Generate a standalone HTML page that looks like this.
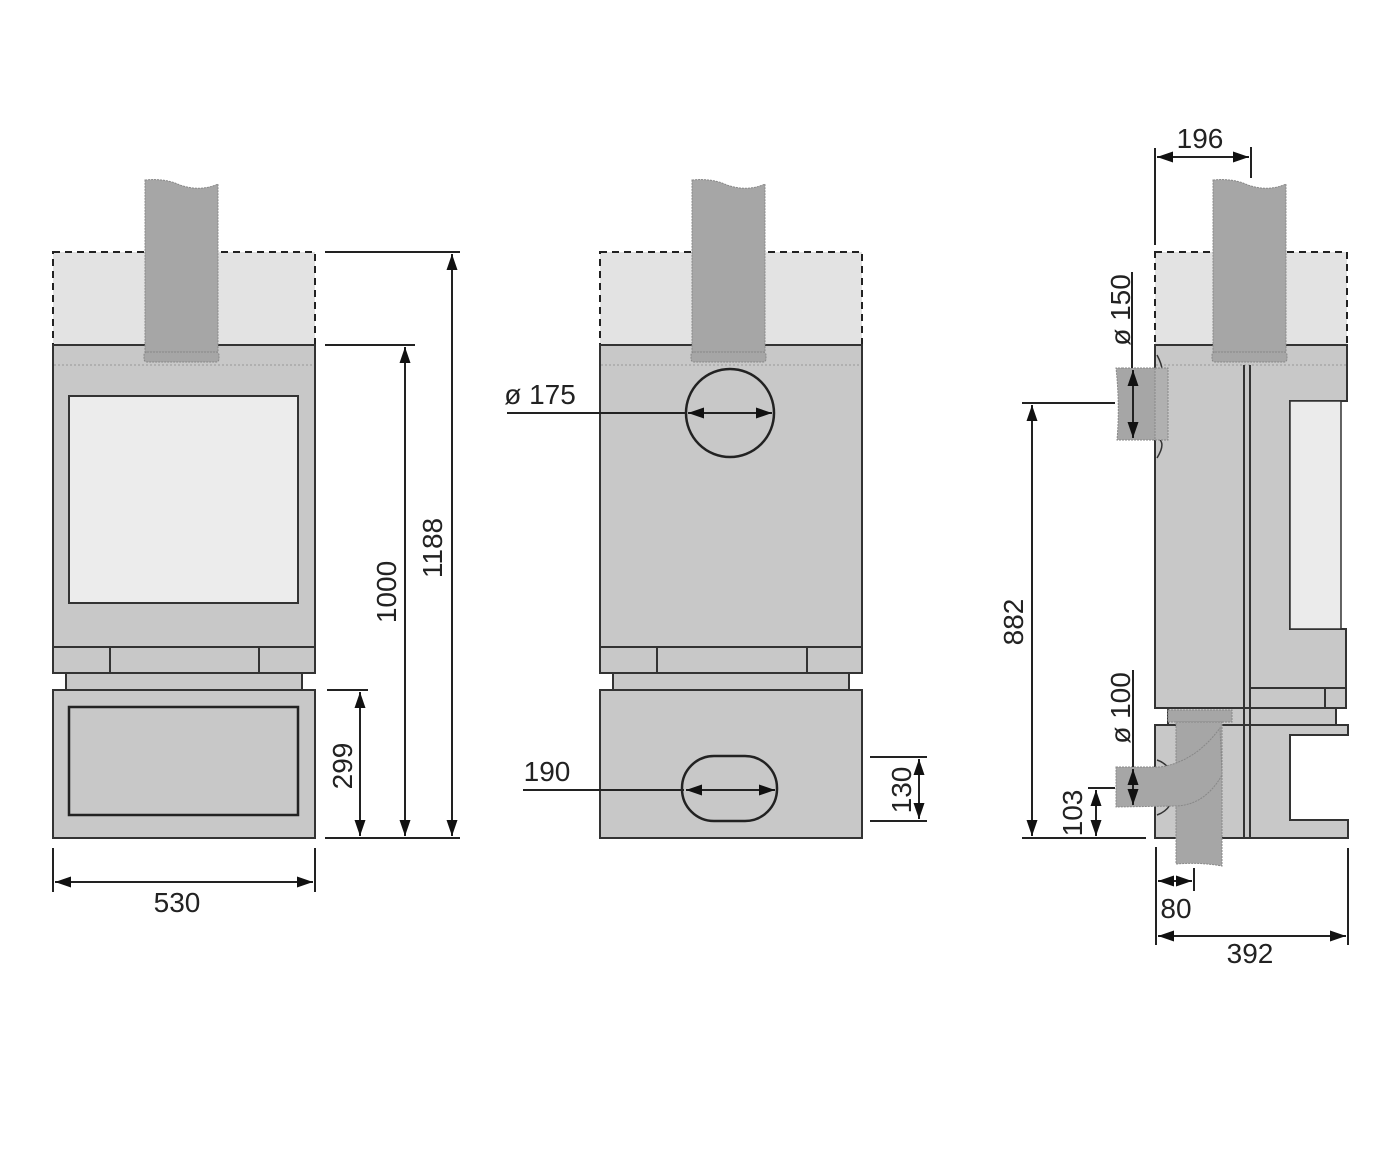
<!DOCTYPE html>
<html><head><meta charset="utf-8"><style>
html,body{margin:0;padding:0;background:#fff;}
svg{display:block;}
text{font-family:"Liberation Sans",sans-serif;font-size:28px;fill:#222;}
</style></head><body>
<svg width="1400" height="1167" viewBox="0 0 1400 1167" xmlns="http://www.w3.org/2000/svg">
<defs>
<marker id="a" viewBox="0 0 16 11" refX="16" refY="5.5" markerWidth="16" markerHeight="11" markerUnits="userSpaceOnUse" orient="auto-start-reverse"><path d="M0,0 L16,5.5 L0,11 Z" fill="#111"/></marker>
</defs>
<g stroke="#333" stroke-width="2">
<!-- ===== LEFT VIEW ===== -->
<rect x="53" y="252" width="262" height="93" fill="#e3e3e3" stroke="#222" stroke-dasharray="7,5"/>
<rect x="53" y="345" width="262" height="328" fill="#c8c8c8"/>
<line x1="54" y1="365" x2="314" y2="365" stroke="#999" stroke-width="1" stroke-dasharray="2,2"/>
<rect x="69" y="396" width="229" height="207" fill="#ececec"/>
<rect x="53" y="647" width="262" height="26" fill="#c8c8c8"/>
<line x1="110" y1="647" x2="110" y2="673"/><line x1="259" y1="647" x2="259" y2="673"/>
<rect x="66" y="673" width="236" height="17" fill="#c8c8c8"/>
<rect x="53" y="690" width="262" height="148" fill="#c8c8c8"/>
<rect x="69" y="707" width="229" height="108" fill="#c8c8c8" stroke="#222" stroke-width="2.5"/>
<path d="M145,180 Q165,178 180,185 Q200,192 218,184 L218,352 L145,352 Z" fill="#a6a6a6" stroke="#888" stroke-width="1" stroke-dasharray="2,1"/>
<rect x="144" y="352" width="75" height="10" rx="3" fill="#a6a6a6" stroke="#888" stroke-width="1" stroke-dasharray="2,1"/>

<!-- ===== MIDDLE VIEW ===== -->
<rect x="600" y="252" width="262" height="93" fill="#e3e3e3" stroke="#222" stroke-dasharray="7,5"/>
<rect x="600" y="345" width="262" height="328" fill="#c8c8c8"/>
<line x1="601" y1="365" x2="861" y2="365" stroke="#999" stroke-width="1" stroke-dasharray="2,2"/>
<rect x="600" y="647" width="262" height="26" fill="#c8c8c8"/>
<line x1="657" y1="647" x2="657" y2="673"/><line x1="807" y1="647" x2="807" y2="673"/>
<rect x="613" y="673" width="236" height="17" fill="#c8c8c8"/>
<rect x="600" y="690" width="262" height="148" fill="#c8c8c8"/>
<path d="M692,180 Q712,178 727,185 Q747,192 765,184 L765,352 L692,352 Z" fill="#a6a6a6" stroke="#888" stroke-width="1" stroke-dasharray="2,1"/>
<rect x="691" y="352" width="75" height="10" rx="3" fill="#a6a6a6" stroke="#888" stroke-width="1" stroke-dasharray="2,1"/>
<ellipse cx="730" cy="413" rx="44" ry="44" fill="none" stroke="#222" stroke-width="2.5"/>
<rect x="682" y="756" width="95" height="65" rx="32" fill="none" stroke="#222" stroke-width="2.5"/>

<!-- ===== RIGHT VIEW ===== -->
<rect x="1155" y="252" width="192" height="93" fill="#e3e3e3" stroke="#222" stroke-dasharray="7,5"/>
<path d="M1155,345 L1347,345 L1347,401 L1290,401 L1290,629 L1346,629 L1346,708 L1155,708 Z" fill="#c8c8c8"/>
<rect x="1290" y="401" width="51" height="228" fill="#ebebeb" stroke-width="1.5"/>
<line x1="1156" y1="365" x2="1346" y2="365" stroke="#999" stroke-width="1" stroke-dasharray="2,2"/>
<line x1="1250" y1="688" x2="1346" y2="688"/><line x1="1325" y1="688" x2="1325" y2="708"/>
<rect x="1168" y="708" width="168" height="17" fill="#c8c8c8"/>
<path d="M1155,725 L1348,725 L1348,735 L1290,735 L1290,820 L1348,820 L1348,838 L1155,838 Z" fill="#c8c8c8"/>
<line x1="1244" y1="365" x2="1244" y2="838"/><line x1="1250" y1="365" x2="1250" y2="838"/>
<path d="M1213,180 Q1233,178 1248,185 Q1268,192 1286,184 L1286,352 L1213,352 Z" fill="#a6a6a6" stroke="#888" stroke-width="1" stroke-dasharray="2,1"/>
<rect x="1212" y="352" width="75" height="10" rx="3" fill="#a6a6a6" stroke="#888" stroke-width="1" stroke-dasharray="2,1"/>
<!-- upper stub ø150 -->
<path d="M1157,355 Q1165,370 1160,375 M1157,458 Q1165,445 1160,440" fill="none" stroke-width="1.5"/>
<path d="M1122,368 L1168,368 L1168,440 L1117,440 Q1120,405 1116,368 Z" fill="#a6a6a6" stroke="#888" stroke-width="1" stroke-dasharray="2,1"/>
<rect x="1155" y="368" width="13" height="72" fill="#b0b0b0" stroke="#888" stroke-width="1" stroke-dasharray="2,1"/>
<!-- lower duct -->
<path d="M1157,760 A25,25 0 0 1 1170,770 M1157,815 A25,25 0 0 0 1170,805" fill="none" stroke-width="1.5"/>
<rect x="1168" y="710" width="64" height="12" fill="#a6a6a6" stroke="#888" stroke-width="1" stroke-dasharray="2,1"/>
<path d="M1176,722 L1222,722 L1222,866 Q1200,862 1176,864 Z" fill="#a6a6a6" stroke="#888" stroke-width="1" stroke-dasharray="2,1"/>
<path d="M1116,767 L1160,767 Q1195,762 1220,728 L1222,775 Q1205,805 1176,806 L1116,807 Z" fill="#a6a6a6" stroke="#888" stroke-width="1" stroke-dasharray="2,1"/>
</g>

<!-- ===== DIMENSIONS ===== -->
<g stroke="#222" stroke-width="2" fill="none">
<line x1="325" y1="252" x2="460" y2="252"/>
<line x1="325" y1="345" x2="415" y2="345"/>
<line x1="327" y1="690" x2="368" y2="690"/>
<line x1="325" y1="838" x2="460" y2="838"/>
<line x1="452" y1="254" x2="452" y2="836" marker-start="url(#a)" marker-end="url(#a)"/>
<line x1="405" y1="347" x2="405" y2="836" marker-start="url(#a)" marker-end="url(#a)"/>
<line x1="360" y1="692" x2="360" y2="836" marker-start="url(#a)" marker-end="url(#a)"/>
<line x1="53" y1="848" x2="53" y2="892"/><line x1="315" y1="848" x2="315" y2="892"/>
<line x1="55" y1="882" x2="313" y2="882" marker-start="url(#a)" marker-end="url(#a)"/>
<line x1="507" y1="413" x2="686" y2="413"/>
<line x1="688" y1="413" x2="772" y2="413" marker-start="url(#a)" marker-end="url(#a)"/>
<line x1="523" y1="790" x2="684" y2="790"/>
<line x1="686" y1="790" x2="775" y2="790" marker-start="url(#a)" marker-end="url(#a)"/>
<line x1="870" y1="757" x2="927" y2="757"/><line x1="870" y1="821" x2="927" y2="821"/>
<line x1="919" y1="759" x2="919" y2="819" marker-start="url(#a)" marker-end="url(#a)"/>
<line x1="1155" y1="148" x2="1155" y2="245"/><line x1="1251" y1="147" x2="1251" y2="178"/>
<line x1="1157" y1="157" x2="1249" y2="157" marker-start="url(#a)" marker-end="url(#a)"/>
<line x1="1132" y1="272" x2="1132" y2="368"/>
<line x1="1133" y1="370" x2="1133" y2="438" marker-start="url(#a)" marker-end="url(#a)"/>
<line x1="1022" y1="403" x2="1115" y2="403"/>
<line x1="1022" y1="838" x2="1146" y2="838"/>
<line x1="1032" y1="405" x2="1032" y2="836" marker-start="url(#a)" marker-end="url(#a)"/>
<line x1="1133" y1="670" x2="1133" y2="767"/>
<line x1="1133" y1="769" x2="1133" y2="805" marker-start="url(#a)" marker-end="url(#a)"/>
<line x1="1088" y1="788" x2="1115" y2="788"/>
<line x1="1096" y1="790" x2="1096" y2="836" marker-start="url(#a)" marker-end="url(#a)"/>
<line x1="1156" y1="847" x2="1156" y2="945"/><line x1="1194" y1="868" x2="1194" y2="891"/>
<line x1="1158" y1="881" x2="1192" y2="881" marker-start="url(#a)" marker-end="url(#a)"/>
<line x1="1348" y1="848" x2="1348" y2="945"/>
<line x1="1158" y1="936" x2="1346" y2="936" marker-start="url(#a)" marker-end="url(#a)"/>
</g>

<text x="177" y="912" text-anchor="middle">530</text>
<text transform="translate(442,548) rotate(-90)" text-anchor="middle">1188</text>
<text transform="translate(396,592) rotate(-90)" text-anchor="middle">1000</text>
<text transform="translate(352,766) rotate(-90)" text-anchor="middle">299</text>
<text x="540" y="404" text-anchor="middle">ø 175</text>
<text x="547" y="781" text-anchor="middle">190</text>
<text transform="translate(911,790) rotate(-90)" text-anchor="middle">130</text>
<text x="1200" y="148" text-anchor="middle">196</text>
<text transform="translate(1130,310) rotate(-90)" text-anchor="middle">ø 150</text>
<text transform="translate(1023,622) rotate(-90)" text-anchor="middle">882</text>
<text transform="translate(1130,708) rotate(-90)" text-anchor="middle">ø 100</text>
<text transform="translate(1082,813) rotate(-90)" text-anchor="middle">103</text>
<text x="1176" y="918" text-anchor="middle">80</text>
<text x="1250" y="963" text-anchor="middle">392</text>
</svg>
</body></html>
